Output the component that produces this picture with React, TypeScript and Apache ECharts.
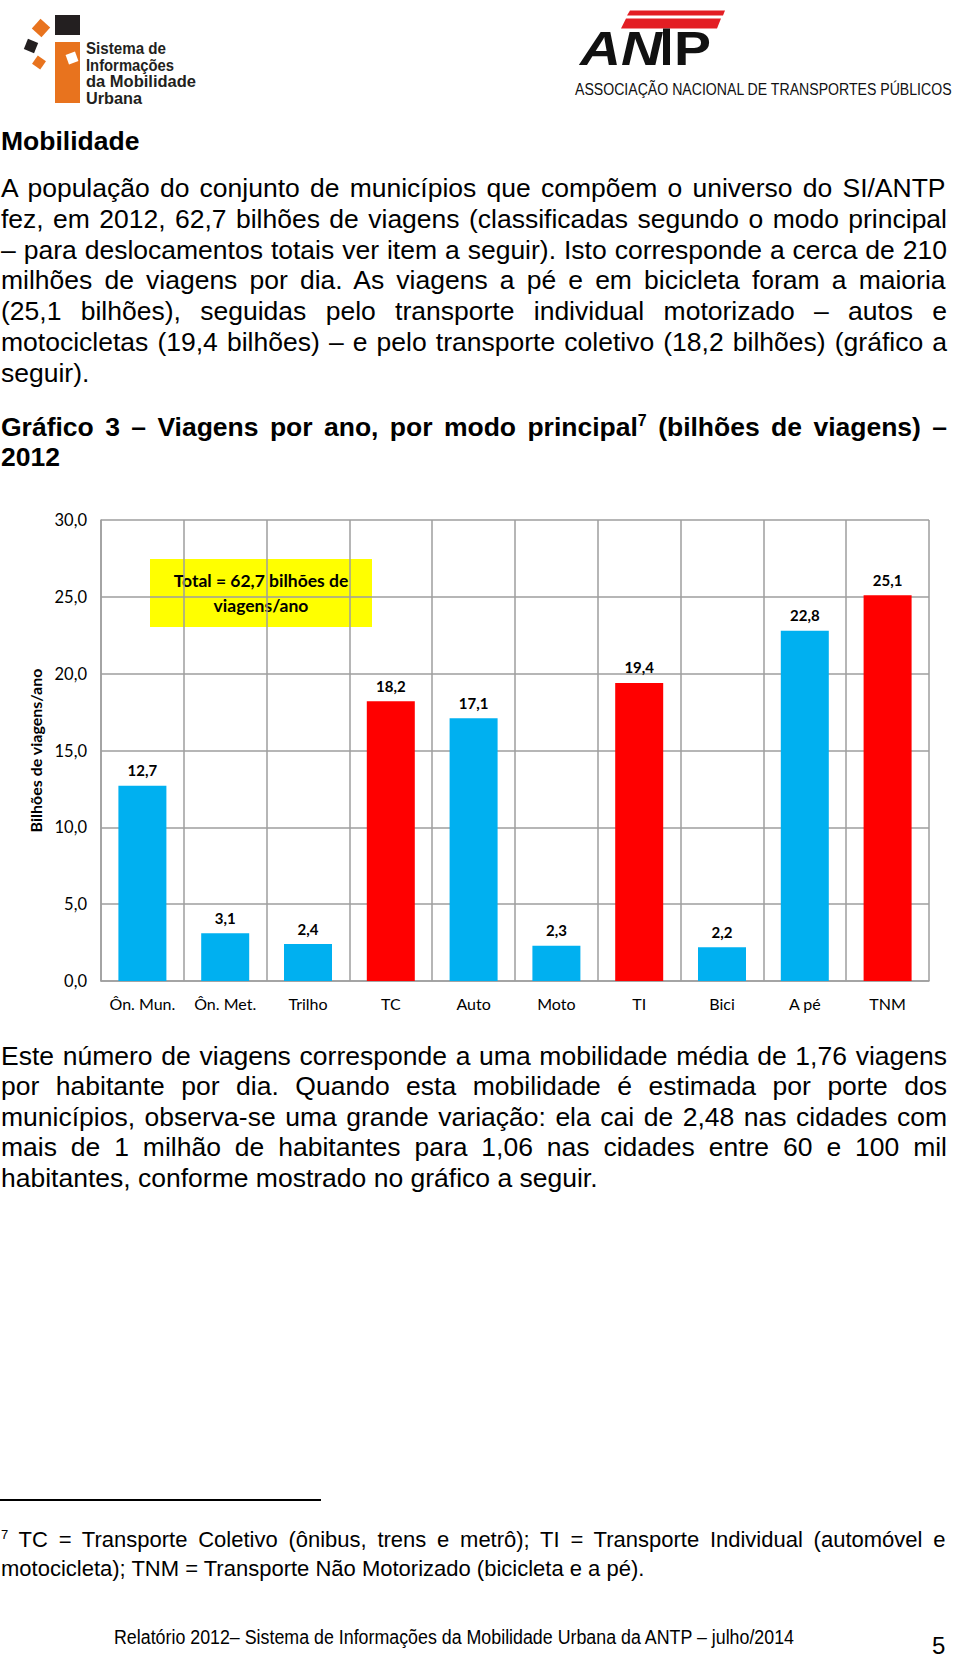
import React, { useEffect, useRef } from "react";
import * as echarts from "echarts";

// ---------- chart data ----------
const categories = ["Ôn. Mun.", "Ôn. Met.", "Trilho", "TC", "Auto", "Moto", "TI", "Bici", "A pé", "TNM"];
const values = [12.7, 3.1, 2.4, 18.2, 17.1, 2.3, 19.4, 2.2, 22.8, 25.1];
const isGroupTotal = [false, false, false, true, false, false, true, false, false, true];
const yMin = 0;
const yMax = 30;
const yInterval = 5;
const yAxisTitle = "Bilhões de viagens/ano";
const totalNote = ["Total = 62,7 bilhões de", "viagens/ano"];

// ---------- page texts ----------
const sectionTitle = "Mobilidade";
const para1 = [
  "A população do conjunto de municípios que compõem o universo do SI/ANTP",
  "fez, em 2012, 62,7 bilhões de viagens (classificadas segundo o modo principal",
  "– para deslocamentos totais ver item a seguir). Isto corresponde a cerca de 210",
  "milhões de viagens por dia. As viagens a pé e em bicicleta foram a maioria",
  "(25,1 bilhões), seguidas pelo transporte individual motorizado – autos e",
  "motocicletas (19,4 bilhões) – e pelo transporte coletivo (18,2 bilhões) (gráfico a",
  "seguir).",
];
const chartTitleA = "Gráfico 3 – Viagens por ano, por modo principal";
const chartTitleSup = "7";
const chartTitleB = " (bilhões de viagens) –";
const chartTitle2 = "2012";
const para2 = [
  "Este número de viagens corresponde a uma mobilidade média de 1,76 viagens",
  "por habitante por dia. Quando esta mobilidade é estimada por porte dos",
  "municípios, observa-se uma grande variação: ela cai de 2,48 nas cidades com",
  "mais de 1 milhão de habitantes para 1,06 nas cidades entre 60 e 100 mil",
  "habitantes, conforme mostrado no gráfico a seguir.",
];
const foot1 = " TC = Transporte Coletivo (ônibus, trens e metrô); TI = Transporte Individual (automóvel e";
const foot2 = "motocicleta); TNM = Transporte Não Motorizado (bicicleta e a pé).";
const footerText = "Relatório 2012– Sistema de Informações da Mobilidade Urbana da ANTP – julho/2014";
const pageNumber = "5";

const BODY = '"Liberation Sans", Arial, sans-serif';
const CHARTFONT = "Lato";
const BLUE = "#00B0F0";
const RED = "#FF0000";
const GRID = "#9E9E9E";

let measureCtx: CanvasRenderingContext2D | null = null;
function measure(text: string, font: string): number {
  if (!measureCtx) measureCtx = document.createElement("canvas").getContext("2d");
  if (!measureCtx) return text.length * 12;
  measureCtx.font = font;
  return measureCtx.measureText(text).width;
}

type Part = { t: string; sup?: boolean };

function Line(props: {
  y: number;
  parts: Part[];
  size: number;
  bold?: boolean;
  justify?: boolean;
  left?: number;
  width?: number;
  lh?: number;
}) {
  const { y, parts, size, bold = false, justify = false, left = 1, width = 946, lh = 31 } = props;
  const w = bold ? "bold " : "";
  const supSize = Math.round(size * 0.6);
  let total = 0;
  let spaces = 0;
  parts.forEach((p) => {
    total += measure(p.t, `${w}${p.sup ? supSize : size}px "Liberation Sans"`);
    spaces += (p.t.match(/ /g) || []).length;
  });
  const ws = justify && spaces > 0 ? (width - total) / spaces : 0;
  return (
    <div
      style={{
        position: "absolute",
        left,
        top: y - lh / 2,
        height: lh,
        lineHeight: lh + "px",
        fontSize: size,
        fontWeight: bold ? "bold" : "normal",
        fontFamily: BODY,
        whiteSpace: "pre",
        wordSpacing: ws,
        color: "#000",
      }}
    >
      {parts.map((p, i) =>
        p.sup ? (
          <span key={i} style={{ fontSize: supSize, position: "relative", top: -size * 0.38 }}>
            {p.t}
          </span>
        ) : (
          <span key={i}>{p.t}</span>
        )
      )}
    </div>
  );
}

function Logos() {
  return (
    <svg width={960} height={112} style={{ position: "absolute", left: 0, top: 0 }}>
      {/* Sistema de Informações da Mobilidade Urbana */}
      <rect x={55} y={15} width={25} height={20} fill="#231F20" />
      <rect x={55} y={42} width={25} height={61} fill="#E8731E" />
      <rect x={67} y={53} width={10} height={10} fill="#FFFFFF" transform="rotate(-20 72 58)" />
      <rect x={-6.5} y={-6.5} width={13} height={13} fill="#E8731E" transform="translate(41 28) rotate(42)" />
      <rect x={-5.5} y={-5.5} width={11} height={11} fill="#231F20" transform="translate(31 46) rotate(22)" />
      <rect x={-5} y={-5} width={10} height={10} fill="#E8731E" transform="translate(39 62.5) rotate(35)" />
      <g fontFamily={BODY} fontWeight="bold" fontSize={16} fill="#231F20">
        <text x={86} y={54} textLength={80} lengthAdjust="spacingAndGlyphs">Sistema de</text>
        <text x={86} y={70.5} textLength={88} lengthAdjust="spacingAndGlyphs">Informações</text>
        <text x={86} y={87} textLength={110} lengthAdjust="spacingAndGlyphs">da Mobilidade</text>
        <text x={86} y={103.5} textLength={56} lengthAdjust="spacingAndGlyphs">Urbana</text>
      </g>
      {/* ANTP */}
      <polygon points="630,10.5 725,10.5 723,15.5 627,15.5" fill="#E31E24" />
      <polygon points="626,18.5 721,18.5 717,28.5 621,28.5" fill="#E31E24" />
      <text x={580} y={65} fontFamily={BODY} fontStyle="italic" fontWeight="bold" fontSize={48} fill="#111" textLength={82} lengthAdjust="spacingAndGlyphs">AN</text>
      <rect x={663} y={28.5} width={7} height={36.5} fill="#111" />
      <text x={674} y={65} fontFamily={BODY} fontWeight="bold" fontSize={48} fill="#111" textLength={37} lengthAdjust="spacingAndGlyphs">P</text>
      <text transform="translate(575 95) scale(0.83 1)" x={0} y={0} fontFamily={BODY} fontSize={17} fill="#111">
        ASSOCIAÇÃO NACIONAL DE TRANSPORTES PÚBLICOS
      </text>
    </svg>
  );
}

function Chart() {
  const ref = useRef<HTMLDivElement>(null);
  useEffect(() => {
    if (!ref.current) return;
    const chart = echarts.init(ref.current, null, { renderer: "svg" });
    const fmt = (v: number) => v.toFixed(1).replace(".", ",");
    chart.setOption({
      animation: false,
      grid: { left: 101, top: 50, width: 828, height: 461, containLabel: false },
      xAxis: {
        type: "category",
        data: categories,
        axisLine: { show: true, lineStyle: { color: GRID, width: 1.5 } },
        axisTick: { show: false },
        splitLine: { show: true, lineStyle: { color: GRID, width: 1.5 } },
        axisLabel: { interval: 0, margin: 14, color: "#000", fontFamily: CHARTFONT, fontSize: 16 },
      },
      yAxis: {
        type: "value",
        min: yMin,
        max: yMax,
        interval: yInterval,
        name: yAxisTitle,
        nameLocation: "middle",
        nameGap: 48,
        nameRotate: 90,
        nameTextStyle: { color: "#000", fontFamily: CHARTFONT, fontSize: 16, fontWeight: "bold" },
        axisLine: { show: true, lineStyle: { color: GRID, width: 1.5 } },
        axisTick: { show: false },
        splitLine: { show: true, lineStyle: { color: GRID, width: 1.5 } },
        axisLabel: {
          formatter: (v: number) => fmt(v),
          margin: 14,
          color: "#000",
          fontFamily: CHARTFONT,
          fontSize: 16.5,
        },
      },
      series: [
        {
          type: "bar",
          data: values.map((v, i) => ({ value: v, itemStyle: { color: isGroupTotal[i] ? RED : BLUE } })),
          barWidth: 48,
          label: {
            show: true,
            position: "top",
            distance: 8,
            formatter: (p: any) => fmt(p.value),
            color: "#000",
            fontFamily: CHARTFONT,
            fontSize: 15,
            fontWeight: "bold",
          },
        },
      ],
      graphic: [
        { type: "rect", shape: { x: 150, y: 89, width: 222, height: 68 }, style: { fill: "#FFFF00" } },
        {
          type: "text",
          x: 261,
          y: 122.5,
          style: {
            text: totalNote.join("\n"),
            fill: "#000",
            font: `bold 17.5px ${CHARTFONT}`,
            align: "center",
            verticalAlign: "middle",
            lineHeight: 25,
          },
        },
      ],
    });
    return () => chart.dispose();
  }, []);
  return <div ref={ref} style={{ position: "absolute", left: 0, top: 470, width: 960, height: 570 }} />;
}

export default function App() {
  const p1Start = 188.4;
  const p1Step = 30.85;
  const p2Start = 1056.3;
  const p2Step = 30.45;
  return (
    <div style={{ position: "absolute", left: 0, top: 0, width: 960, height: 1660, background: "#fff", overflow: "hidden" }}>
      <Logos />
      <Line y={141} parts={[{ t: sectionTitle }]} size={26.5} bold />
      {para1.map((t, i) => (
        <Line key={"a" + i} y={p1Start + i * p1Step} parts={[{ t }]} size={26.5} justify={i < para1.length - 1} />
      ))}
      <Line
        y={427.6}
        parts={[{ t: chartTitleA }, { t: chartTitleSup, sup: true }, { t: chartTitleB }]}
        size={26.5}
        bold
        justify
      />
      <Line y={457.5} parts={[{ t: chartTitle2 }]} size={26.5} bold />
      <Chart />
      {para2.map((t, i) => (
        <Line key={"b" + i} y={p2Start + i * p2Step} parts={[{ t }]} size={26.5} justify={i < para2.length - 1} />
      ))}
      <div style={{ position: "absolute", left: 0, top: 1499, width: 321, height: 1.5, background: "#000" }} />
      <Line y={1540} parts={[{ t: "7", sup: true }, { t: foot1 }]} size={22} justify lh={28} />
      <Line y={1568.6} parts={[{ t: foot2 }]} size={22} lh={28} />
      <svg width={960} height={60} style={{ position: "absolute", left: 0, top: 1600 }}>
        <text x={114} y={44} fontFamily={BODY} fontSize={19.5} fill="#000" textLength={680} lengthAdjust="spacingAndGlyphs">
          {footerText}
        </text>
        <text x={932} y={54} fontFamily={BODY} fontSize={24} fill="#000">{pageNumber}</text>
      </svg>
    </div>
  );
}
